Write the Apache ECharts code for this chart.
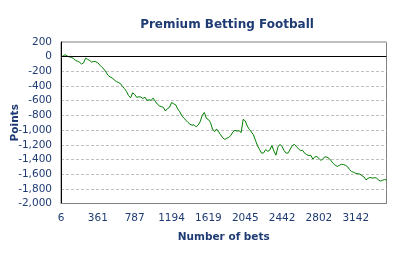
<!DOCTYPE html>
<html><head><meta charset="utf-8">
<script src="https://cdn.jsdelivr.net/npm/echarts@6/dist/echarts.min.js"></script>
<style>html,body{margin:0;padding:0;background:#fff}#c{width:412px;height:263px}</style>
</head><body><div id="c"></div>
<script>
const titleText = 'Premium Betting Football';
const xName = 'Number of bets';
const yName = 'Points';
const tickLabels = ['6','361','787','1194','1619','2045','2442','2802','3142'];
const labelEvery = 18;
const yTicks = {min: -2000, max: 200, step: 200};
const points = [
-10,10,27,10,-3,-9,-23,-48,-62,-75,
-100,-85,-20,-36,-52,-74,-64,-68,-84,-115,
-145,-170,-210,-255,-276,-290,-315,-338,-350,-365,
-405,-435,-475,-530,-560,-492,-515,-555,-545,-550,
-570,-552,-596,-587,-596,-564,-605,-645,-670,-680,
-690,-740,-708,-690,-625,-641,-655,-710,-750,-805,
-835,-865,-895,-921,-934,-928,-957,-932,-885,-800,
-760,-840,-856,-895,-985,-1020,-985,-1025,-1065,-1105,
-1128,-1110,-1100,-1070,-1025,-1002,-1015,-1008,-1034,-853,
-875,-945,-990,-1025,-1065,-1140,-1215,-1265,-1315,-1310,
-1265,-1290,-1273,-1210,-1285,-1341,-1228,-1196,-1225,-1280,
-1315,-1310,-1260,-1210,-1195,-1225,-1255,-1280,-1275,-1315,
-1333,-1348,-1343,-1395,-1366,-1360,-1385,-1415,-1386,-1364,
-1370,-1385,-1420,-1455,-1480,-1495,-1480,-1466,-1470,-1480,
-1500,-1540,-1565,-1575,-1590,-1594,-1600,-1620,-1638,-1678,
-1657,-1645,-1654,-1650,-1648,-1678,-1695,-1686,-1673,-1680
];
const categories = points.map((_, i) => (i % labelEvery === 0 && tickLabels[i / labelEvery]) ? tickLabels[i / labelEvery] : String(i));

const navy = '#1F3B73';
const font = 'DejaVu Sans';
const chart = echarts.init(document.getElementById('c'), null, {renderer: 'canvas'});
chart.setOption({
  animation: false,
  backgroundColor: '#fff',
  title: {
    text: titleText, left: 222, top: 14, textAlign: 'center',
    textStyle: {fontFamily: font, fontWeight: 'bold', fontSize: 12, color: navy}
  },
  grid: {left: 61, right: 25.5, top: 42, bottom: 59.5, show: true, borderColor: '#808080', borderWidth: 1,
    containLabel: false, outerBoundsMode: 'none'},
  xAxis: {
    type: 'category', data: categories, boundaryGap: false,
    name: xName, nameLocation: 'middle', nameGap: 28, nameMoveOverlap: false,
    nameTextStyle: {fontFamily: font, fontWeight: 'bold', fontSize: 10.5, color: navy},
    axisLine: {onZero: false, lineStyle: {color: '#808080', width: 1}},
    axisTick: {show: false},
    axisLabel: {interval: labelEvery - 1, fontFamily: font, fontSize: 10.5, color: navy, margin: 9,
      formatter: (v, i) => (i % labelEvery === 0) ? v : ''},
    splitLine: {show: false}
  },
  yAxis: {
    type: 'value', min: yTicks.min, max: yTicks.max, interval: yTicks.step,
    name: yName, nameLocation: 'middle', nameGap: 40, nameRotate: 90, nameMoveOverlap: false,
    nameTextStyle: {fontFamily: font, fontWeight: 'bold', fontSize: 10.5, color: navy},
    axisLine: {show: true, lineStyle: {color: '#000', width: 1}},
    axisTick: {show: false},
    axisLabel: {fontFamily: font, fontSize: 10.5, color: navy, margin: 9},
    splitLine: {show: true, lineStyle: {color: '#c0c0c0', type: [3, 2], width: 1}}
  },
  series: [{
    type: 'line', data: points, showSymbol: false, symbol: 'none',
    lineStyle: {color: '#008000', width: 1},
    markLine: {silent: true, symbol: 'none', label: {show: false},
      lineStyle: {color: '#000', type: 'solid', width: 1},
      data: [{yAxis: 0}]}
  }]
});
</script></body></html>
